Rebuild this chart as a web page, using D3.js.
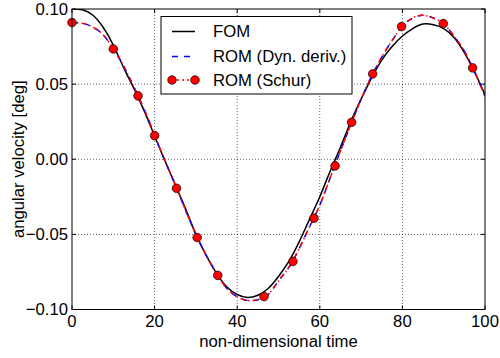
<!DOCTYPE html>
<html>
<head>
<meta charset="utf-8">
<script src="https://cdn.jsdelivr.net/npm/d3@7"></script>
<style>
  body { margin: 0; background: #fff; }
  svg { display: block; font-family: "Liberation Sans", Arial, sans-serif; }
</style>
</head>
<body>
<div id="chart"></div>
<script>
// time samples (non-dimensional)
const time = [0, 2.5, 5, 7.5, 10, 12.5, 15, 17.5, 20, 22.5, 25, 27.5, 30, 32.5, 35, 37.5, 40,
  42.5, 45, 47.5, 50, 52.5, 55, 57.5, 60, 62.5, 65, 67.5, 70, 72.5, 75, 77.5, 80, 82.5, 85,
  87.5, 90, 92.5, 95, 97.5, 100];

// full order model
const fom = [0.100, 0.0995, 0.096, 0.088, 0.076, 0.061, 0.047, 0.032, 0.0155, -0.001, -0.017,
  -0.033, -0.050, -0.064, -0.076, -0.085, -0.090, -0.092, -0.0905, -0.086, -0.078, -0.068,
  -0.055, -0.040, -0.025, -0.008, 0.008, 0.025, 0.040, 0.054, 0.066, 0.075, 0.082, 0.087,
  0.090, 0.0895, 0.087, 0.081, 0.071, 0.058, 0.043];

// reduced order model, dynamic derivatives
const romDyn = [0.091, 0.0905, 0.088, 0.083, 0.0735, 0.062, 0.048, 0.033, 0.016, -0.001, -0.017,
  -0.034, -0.050, -0.064, -0.076, -0.086, -0.0915, -0.094, -0.0935, -0.090, -0.081, -0.072,
  -0.0595, -0.045, -0.0305, -0.0125, 0.0055, 0.023, 0.040, 0.055, 0.068, 0.079, 0.0885, 0.094,
  0.0958, 0.094, 0.090, 0.082, 0.072, 0.058, 0.042];

// reduced order model, Schur (line)
const romSchur = [0.091, 0.0905, 0.088, 0.083, 0.0735, 0.062, 0.048, 0.033, 0.016, -0.001, -0.017,
  -0.034, -0.050, -0.064, -0.076, -0.086, -0.0915, -0.094, -0.0935, -0.090, -0.081, -0.072,
  -0.0595, -0.045, -0.0305, -0.0125, 0.0055, 0.023, 0.040, 0.055, 0.068, 0.079, 0.0885, 0.094,
  0.0958, 0.094, 0.090, 0.082, 0.072, 0.058, 0.042];

// Schur markers
const markT = [0, 10, 16, 20, 25.3, 30.3, 35.3, 46.5, 53.5, 58.6, 63.7, 67.7, 72.8, 79.8, 89.9, 97];
const markV = [0.091, 0.0734, 0.0422, 0.0157, -0.0193, -0.0521, -0.0773, -0.0914, -0.068, -0.0392,
  -0.0044, 0.0246, 0.0568, 0.0883, 0.0903, 0.0608];

const xTicks = [0, 20, 40, 60, 80, 100];
const yTicks = [-0.10, -0.05, 0.00, 0.05, 0.10];
const legendLabels = ["FOM", "ROM (Dyn. deriv.)", "ROM (Schur)"];

const width = 500, height = 358;
const margin = {top: 9, right: 15, bottom: 48.5, left: 72};
const plotW = width - margin.left - margin.right;
const plotH = height - margin.top - margin.bottom;
const fs = 16.7;

const svg = d3.select('#chart').append('svg')
  .attr('width', width)
  .attr('height', height);

const g = svg.append('g')
  .attr('transform', `translate(${margin.left},${margin.top})`);

const x = d3.scaleLinear().domain([0, 100]).range([0, plotW]);
const y = d3.scaleLinear().domain([-0.1, 0.1]).range([plotH, 0]);

// grid
g.append('g').selectAll('line')
  .data(xTicks.slice(1, -1))
  .join('line')
  .attr('x1', d => x(d)).attr('x2', d => x(d))
  .attr('y1', 0).attr('y2', plotH)
  .attr('stroke', '#000').attr('stroke-width', 0.6)
  .attr('stroke-dasharray', '1,2');
g.append('g').selectAll('line')
  .data(yTicks.slice(1, -1))
  .join('line')
  .attr('y1', d => y(d)).attr('y2', d => y(d))
  .attr('x1', 0).attr('x2', plotW)
  .attr('stroke', '#000').attr('stroke-width', 0.6)
  .attr('stroke-dasharray', '1,2');

svg.append('defs').append('clipPath').attr('id', 'clip')
  .append('rect').attr('width', plotW).attr('height', plotH);

const lines = g.append('g').attr('clip-path', 'url(#clip)');

function lineOf(vals) {
  return d3.line()
    .x((d, i) => x(time[i]))
    .y(d => y(d))
    .curve(d3.curveNatural)(vals);
}

lines.append('path')
  .attr('d', lineOf(fom))
  .attr('fill', 'none').attr('stroke', '#000').attr('stroke-width', 1.5);

lines.append('path')
  .attr('d', lineOf(romDyn))
  .attr('fill', 'none').attr('stroke', '#0000ff').attr('stroke-width', 1.5)
  .attr('stroke-dasharray', '6,6');

lines.append('path')
  .attr('d', lineOf(romSchur))
  .attr('fill', 'none').attr('stroke', '#ff0000').attr('stroke-width', 1.5)
  .attr('stroke-dasharray', '5,3,1.5,3')
  .attr('stroke-dashoffset', 3);

g.append('g').selectAll('circle')
  .data(markT)
  .join('circle')
  .attr('cx', d => x(d))
  .attr('cy', (d, i) => y(markV[i]))
  .attr('r', 4.3)
  .attr('fill', '#ff0000')
  .attr('stroke', '#000').attr('stroke-width', 0.7);

// frame
g.append('rect')
  .attr('width', plotW).attr('height', plotH)
  .attr('fill', 'none').attr('stroke', '#000').attr('stroke-width', 1);

// inward ticks on all sides
const tickLen = 4;
const tk = g.append('g').attr('stroke', '#000').attr('stroke-width', 1);
xTicks.forEach(t => {
  tk.append('line').attr('x1', x(t)).attr('x2', x(t)).attr('y1', plotH).attr('y2', plotH - tickLen);
  tk.append('line').attr('x1', x(t)).attr('x2', x(t)).attr('y1', 0).attr('y2', tickLen);
});
yTicks.forEach(t => {
  tk.append('line').attr('y1', y(t)).attr('y2', y(t)).attr('x1', 0).attr('x2', tickLen);
  tk.append('line').attr('y1', y(t)).attr('y2', y(t)).attr('x1', plotW).attr('x2', plotW - tickLen);
});

// tick labels
g.append('g').selectAll('text')
  .data(xTicks)
  .join('text')
  .attr('x', d => x(d))
  .attr('y', plotH + 17.5)
  .attr('text-anchor', 'middle')
  .attr('font-size', fs)
  .text(d => d);

const fmt = d3.format('.2f');
g.append('g').selectAll('text')
  .data(yTicks)
  .join('text')
  .attr('x', -4)
  .attr('y', d => y(d))
  .attr('dy', '0.35em')
  .attr('text-anchor', 'end')
  .attr('font-size', fs)
  .text(d => fmt(d).replace('-', '\u2212'));

// axis labels
g.append('text')
  .attr('x', plotW / 2)
  .attr('y', plotH + 37.5)
  .attr('text-anchor', 'middle')
  .attr('font-size', fs)
  .text('non-dimensional time');

g.append('text')
  .attr('transform', `translate(${-48},${plotH / 2}) rotate(-90)`)
  .attr('text-anchor', 'middle')
  .attr('font-size', fs)
  .text('angular velocity [deg]');

// legend
const leg = svg.append('g').attr('transform', 'translate(161,16.5)');
leg.append('rect')
  .attr('width', 191).attr('height', 77.5)
  .attr('fill', '#fff').attr('stroke', '#000').attr('stroke-width', 1);

const legY = [15, 40, 63.5];
const legStyles = [
  {stroke: '#000', dash: null},
  {stroke: '#0000ff', dash: '6,6'},
  {stroke: '#ff0000', dash: '2,3'}
];
legendLabels.forEach((lab, i) => {
  leg.append('line')
    .attr('x1', 11).attr('x2', 34)
    .attr('y1', legY[i]).attr('y2', legY[i])
    .attr('stroke', legStyles[i].stroke).attr('stroke-width', 1.5)
    .attr('stroke-dasharray', legStyles[i].dash);
  if (i === 2) {
    [11, 34].forEach(cx => {
      leg.append('circle').attr('cx', cx).attr('cy', legY[i]).attr('r', 4.3)
        .attr('fill', '#ff0000').attr('stroke', '#000').attr('stroke-width', 0.7);
    });
  }
  leg.append('text')
    .attr('x', 52).attr('y', legY[i])
    .attr('dy', '0.35em')
    .attr('font-size', fs)
    .text(lab);
});
</script>
</body>
</html>
